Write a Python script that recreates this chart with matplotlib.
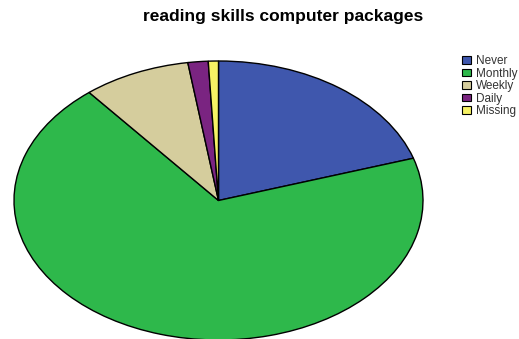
import matplotlib
matplotlib.use("Agg")
import matplotlib.pyplot as plt
from matplotlib.patches import Patch

plt.rcParams['font.family'] = ['Liberation Sans', 'DejaVu Sans']

categories = ["Never", "Monthly", "Weekly", "Daily", "Missing"]
percent = [20.1, 69.0, 8.5, 1.6, 0.8]
colors = ["#3F57AD", "#2EB84B", "#D5CD9D", "#7A2481", "#F6F264"]

W, H = 519, 339
fig = plt.figure(figsize=(W / 100, H / 100), dpi=100)

# Stretched (elliptical) pie, slightly cut off at the bottom edge
ax = fig.add_axes([14 / W, (H - 340) / H, 409 / W, 279 / H])
ax.pie(percent, colors=colors, startangle=90, counterclock=False,
       wedgeprops=dict(edgecolor="black", linewidth=1.0), radius=1.0)
ax.set_aspect("auto")
ax.set_xlim(-1, 1)
ax.set_ylim(-1, 1)
ax.axis("off")

fig.text(283 / W, 1 - 17 / H, "reading skills computer packages",
         ha="center", va="center", fontsize=12.5, fontweight="bold")

handles = [Patch(facecolor=c, edgecolor="black", linewidth=0.8) for c in colors]
fig.legend(handles, categories, loc="upper left",
           bbox_to_anchor=(462 / W, 1 - 55 / H), frameon=False, borderpad=0,
           borderaxespad=0, fontsize=8.5, handlelength=0.78, handleheight=0.6,
           handletextpad=0.4, labelspacing=0.05, labelcolor="#333333")

fig.savefig("out.png", dpi=100, facecolor="white")
